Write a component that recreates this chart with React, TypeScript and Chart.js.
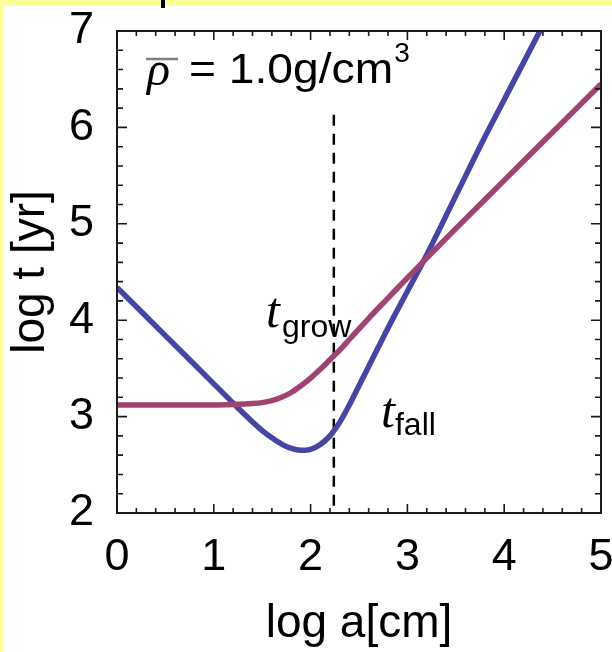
import React, { useEffect, useRef } from "react";
import { Chart, registerables } from "chart.js";

Chart.register(...registerables);

// log a [cm] values and log t [yr] values
const aFall = [0, 0.5, 1.0, 1.25, 1.4, 1.5, 1.6, 1.7, 1.8, 1.9, 2.0, 2.1, 2.2, 2.3, 2.4, 2.5, 2.6, 2.8, 3.0, 3.2, 3.5, 3.8, 4.1, 4.4];
const tFall = [4.34, 3.84, 3.34, 3.09, 2.945, 2.855, 2.78, 2.715, 2.67, 2.65, 2.66, 2.71, 2.8, 2.94, 3.12, 3.32, 3.52, 3.92, 4.3, 4.68, 5.29, 5.9, 6.48, 7.06];

const aGrow = [0, 0.5, 1.0, 1.2, 1.4, 1.5, 1.6, 1.7, 1.8, 1.9, 2.0, 2.1, 2.2, 2.3, 2.4, 2.6, 2.8, 3.0, 3.2, 3.5, 4.0, 4.5, 5.0];
const tGrow = [3.12, 3.12, 3.12, 3.125, 3.135, 3.145, 3.165, 3.2, 3.25, 3.32, 3.4, 3.49, 3.59, 3.69, 3.8, 4.02, 4.23, 4.44, 4.645, 4.95, 5.45, 5.95, 6.45];

const aDashed = [2.24, 2.24];
const tDashed = [6.13, 2];

const xTicks = [0, 1, 2, 3, 4, 5];
const yTicks = [2, 3, 4, 5, 6, 7];

const BLUE = "#4545A4";
const PURPLE = "#A04274";
const SANS = "'Liberation Sans', Arial, sans-serif";
const SERIF = "'Liberation Serif', 'Times New Roman', serif";

const pageBg = {
  id: "pageBg",
  beforeDraw(chart: any) {
    const { ctx, width, height } = chart;
    ctx.save();
    ctx.fillStyle = "#ffffff";
    ctx.fillRect(0, 0, width, height);
    ctx.fillStyle = "#FFFF99";
    ctx.fillRect(0, 0, width, 6);
    ctx.fillRect(0, 0, 4, height);
    ctx.fillStyle = "#000000";
    ctx.fillRect(161, 0, 4, 8);
    ctx.restore();
  },
};

const frameTicks = {
  id: "frameTicks",
  afterDatasetsDraw(chart: any) {
    const { ctx, chartArea: ca, scales } = chart;
    const x = scales.x;
    const y = scales.y;
    ctx.save();
    ctx.strokeStyle = "#1a1a1a";
    ctx.lineWidth = 1.6;
    ctx.beginPath();
    for (let i = 0; i <= 25; i++) {
      const v = xTicks[0] + i * 0.2;
      const px = x.getPixelForValue(v);
      const L = i % 5 === 0 ? 9 : 5;
      ctx.moveTo(px, ca.bottom);
      ctx.lineTo(px, ca.bottom - L);
      ctx.moveTo(px, ca.top);
      ctx.lineTo(px, ca.top + L);
    }
    for (let i = 0; i <= 25; i++) {
      const v = yTicks[0] + i * 0.2;
      const py = y.getPixelForValue(v);
      const L = i % 5 === 0 ? 10 : 6;
      ctx.moveTo(ca.left, py);
      ctx.lineTo(ca.left + L, py);
      ctx.moveTo(ca.right, py);
      ctx.lineTo(ca.right - L, py);
    }
    ctx.stroke();
    ctx.lineWidth = 2;
    ctx.strokeRect(ca.left, ca.top, ca.right - ca.left, ca.bottom - ca.top);
    ctx.restore();
  },
};

const labels = {
  id: "labels",
  afterDraw(chart: any) {
    const { ctx, scales } = chart;
    const X = (v: number) => scales.x.getPixelForValue(v);
    const Y = (v: number) => scales.y.getPixelForValue(v);
    ctx.save();
    ctx.fillStyle = "#000";
    ctx.textAlign = "left";
    ctx.textBaseline = "alphabetic";

    // rho-bar annotation
    const rx = X(0.31);
    const ry = Y(6.44);
    ctx.font = `italic 48px ${SERIF}`;
    ctx.fillText("ρ", rx, ry);
    ctx.strokeStyle = "#808080";
    ctx.lineWidth = 2.5;
    ctx.beginPath();
    ctx.moveTo(rx - 1, ry - 26);
    ctx.lineTo(rx + 31, ry - 26);
    ctx.stroke();
    ctx.font = `42px ${SANS}`;
    const ex = X(0.744);
    const ey = ry - 2;
    ctx.save();
    ctx.translate(ex, ey);
    ctx.scale(1.1, 1);
    ctx.fillText("= 1.0g/cm", 0, 0);
    ctx.restore();
    const w = ctx.measureText("= 1.0g/cm").width * 1.1;
    ctx.font = `28px ${SANS}`;
    ctx.fillText("3", ex + w + 1, ey - 21);

    // t_grow
    const gx = X(1.539);
    const gy = Y(3.93);
    ctx.font = `italic 50px ${SERIF}`;
    ctx.fillText("t", gx, gy);
    ctx.font = `32px ${SANS}`;
    ctx.fillText("grow", gx + 16, gy + 10);

    // t_fall
    const fx = X(2.727);
    const fy = Y(2.892);
    ctx.font = `italic 50px ${SERIF}`;
    ctx.fillText("t", fx, fy);
    ctx.font = `32px ${SANS}`;
    ctx.fillText("fall", fx + 14, fy + 8);
    ctx.restore();
  },
};

export default function App() {
  const ref = useRef<HTMLCanvasElement | null>(null);

  useEffect(() => {
    if (!ref.current) return;
    const chart = new Chart(ref.current, {
      type: "line",
      data: {
        datasets: [
          {
            label: "t_grow",
            data: aGrow.map((a, i) => ({ x: a, y: tGrow[i] })),
            borderColor: PURPLE,
            borderWidth: 5.5,
            pointRadius: 0,
            cubicInterpolationMode: "monotone",
            clip: 0,
          },
          {
            label: "t_fall",
            data: aFall.map((a, i) => ({ x: a, y: tFall[i] })),
            borderColor: BLUE,
            borderWidth: 5.5,
            pointRadius: 0,
            cubicInterpolationMode: "monotone",
            clip: 0,
          },
          {
            label: "dashed",
            data: aDashed.map((a, i) => ({ x: a, y: tDashed[i] })),
            borderColor: "#000",
            borderWidth: 2.5,
            borderDash: [11, 8],
            pointRadius: 0,
            clip: 0,
          },
        ],
      },
      options: {
        responsive: false,
        animation: false,
        events: [],
        layout: { padding: { left: 0, top: 31, right: 11, bottom: 0 } },
        plugins: { legend: { display: false }, tooltip: { enabled: false } },
        scales: {
          x: {
            type: "linear",
            min: 0,
            max: 5,
            grid: { display: false },
            border: { display: false },
            afterBuildTicks: (s: any) => {
              s.ticks = xTicks.map((v) => ({ value: v }));
            },
            afterFit: (s: any) => {
              s.height = 139;
              s.paddingLeft = 0;
              s.paddingRight = 0;
            },
            ticks: {
              autoSkip: false,
              maxRotation: 0,
              padding: 10,
              color: "#000",
              font: { family: SANS, size: 45 },
              callback: (v: any) => String(v),
            },
            title: {
              display: true,
              text: "log a[cm]",
              color: "#000",
              font: { family: SANS, size: 46 },
              padding: { top: 0, bottom: 0 },
            },
          },
          y: {
            type: "linear",
            min: 2,
            max: 7,
            grid: { display: false },
            border: { display: false },
            afterBuildTicks: (s: any) => {
              s.ticks = yTicks.map((v) => ({ value: v }));
            },
            afterFit: (s: any) => {
              s.width = 117;
              s.paddingTop = 0;
              s.paddingBottom = 0;
            },
            ticks: {
              autoSkip: false,
              padding: 15,
              color: "#000",
              font: { family: SANS, size: 45 },
              callback: (v: any) => String(v),
            },
            title: {
              display: true,
              text: "log t [yr]",
              color: "#000",
              font: { family: SANS, size: 46 },
              padding: { top: 4, bottom: 0 },
            },
          },
        },
      },
      plugins: [pageBg, frameTicks, labels],
    } as any);
    return () => chart.destroy();
  }, []);

  return (
    <div style={{ width: 612, height: 652, position: "relative" }}>
      <style>{`body{margin:0}`}</style>
      <canvas ref={ref} width={612} height={652} style={{ display: "block" }} />
    </div>
  );
}
